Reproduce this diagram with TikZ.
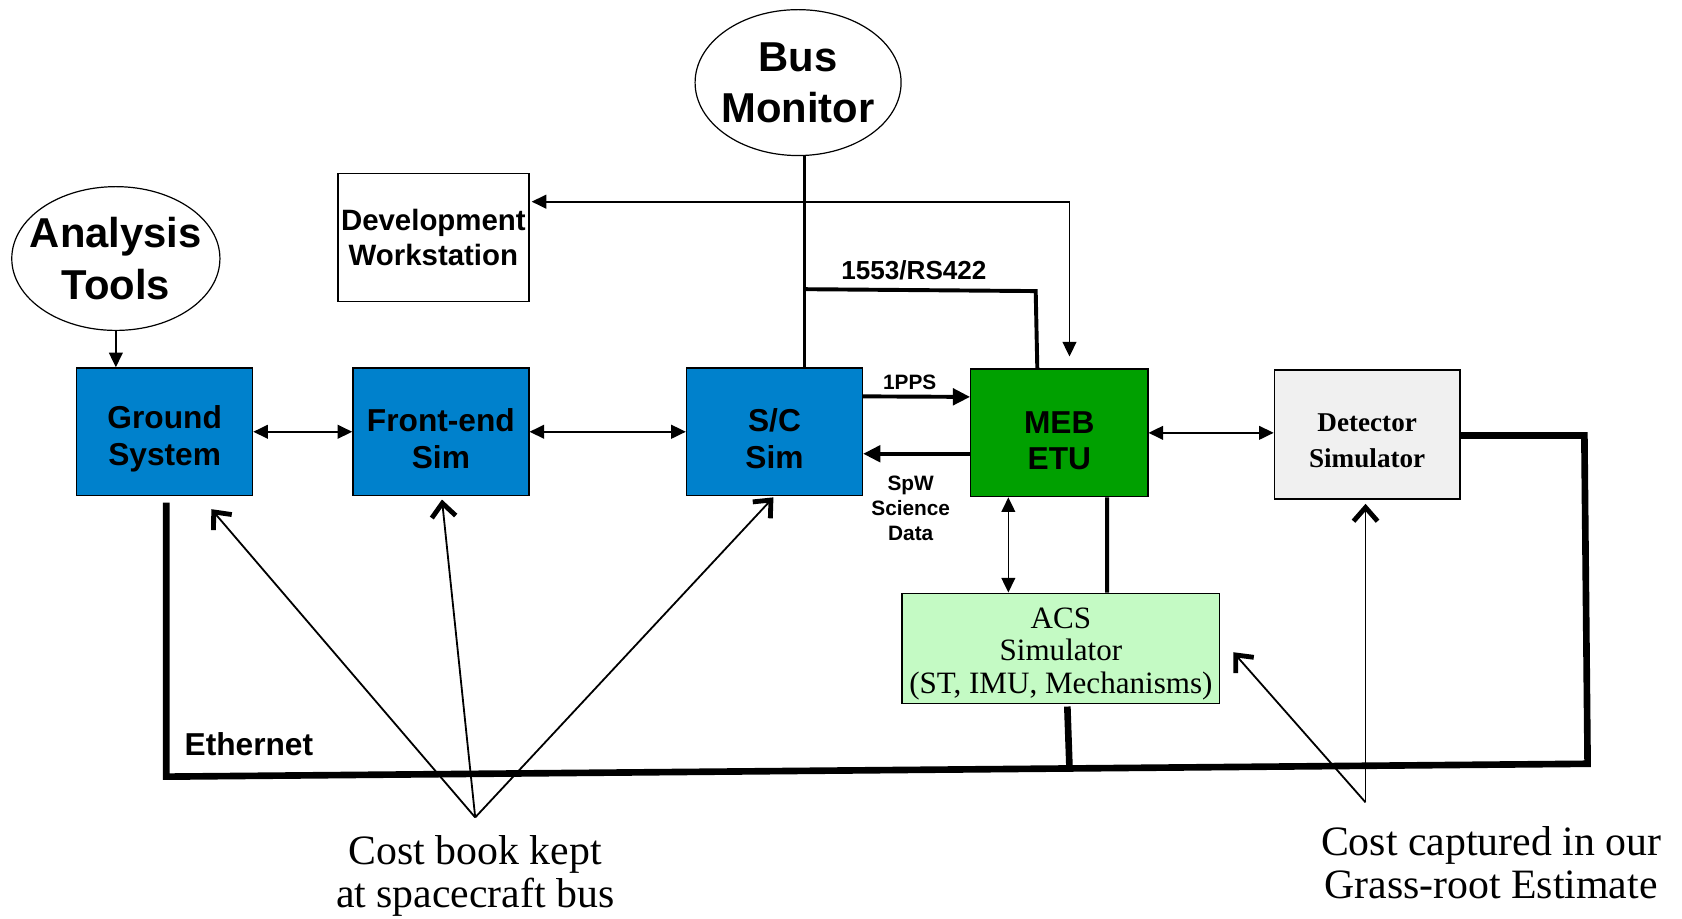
\documentclass[tikz,border=0pt]{standalone}
\usepackage{fontspec}
\setmainfont{Liberation Serif}
\setsansfont{Liberation Sans}
\usepackage{tikz}
\usetikzlibrary{shapes,arrows.meta,positioning,calc}

\definecolor{simblue}{RGB}{0,129,204}
\definecolor{mebgreen}{RGB}{0,160,0}
\definecolor{acsgreen}{RGB}{196,250,196}
\definecolor{detgrey}{RGB}{240,240,240}

\begin{document}
\begin{tikzpicture}[x=0.025cm, y=-0.025cm,
  >={Triangle[length=0.34cm,width=0.32cm]},
  box/.style={draw, line width=0.9pt, align=center, inner xsep=2pt,
    font=\sffamily\bfseries\fontsize{21}{24}\selectfont},
  simbox/.style={box, fill=simblue, minimum width=4.1cm, minimum height=2.975cm},
  oval/.style={ellipse, draw, line width=0.8pt, align=center, inner xsep=-9pt, inner ysep=-3pt,
    font=\sffamily\bfseries\fontsize{27.7}{34}\selectfont},
  lbl/.style={align=center, font=\sffamily\bfseries\fontsize{13.8}{16.7}\selectfont},
  costlbl/.style={align=center, font=\fontsize{27.7}{28.5}\selectfont},
  link/.style={line width=1.1pt},
  bus/.style={line width=2.6pt},
  ether/.style={line width=4.4pt},
  cost/.style={line width=1.2pt, -{Straight Barb[length=0.32cm,width=0.56cm,line width=3.2pt]}}]
\useasboundingbox (0,0) rectangle (1568,856);

% ovals
\node[oval, minimum width=4.8cm, minimum height=3.4cm] (bm) at (744,77) {Bus\\Monitor};
\node[oval, minimum width=4.85cm, minimum height=3.35cm] (at) at (108,241) {Analysis\\Tools};

% boxes
\node[box, minimum width=4.45cm, minimum height=2.975cm, font=\sffamily\bfseries\fontsize{19.5}{22.8}\selectfont] (dw) at (404,221.5) {Development\\Workstation};
\node[simbox] (gs) at (153.5,402.5) {\rule{0pt}{24.5pt}Ground\\System};
\node[simbox] (fe) at (411,402.5) {\rule{0pt}{24.5pt}Front-end\\Sim};
\node[simbox] (sc) at (722,402.5) {\rule{0pt}{24.5pt}S/C\\Sim};
\node[box, fill=mebgreen, minimum width=4.125cm, minimum height=2.975cm] (meb) at (987.5,403.5) {\rule{0pt}{24.5pt}MEB\\ETU};
\node[box, fill=detgrey, minimum width=4.325cm, minimum height=3cm, font=\bfseries\fontsize{18}{24}\selectfont] (det) at (1274.5,405) {\rule{0pt}{20pt}Detector\\Simulator};
\node[box, fill=acsgreen, minimum width=7.4cm, minimum height=2.575cm, inner ysep=1pt, font=\fontsize{20.6}{21.3}\selectfont] (acs) at (989,604.5) {\rule{0pt}{21pt}ACS\\Simulator\\(ST, IMU, Mechanisms)};

% labels
\node[lbl] (pps) at (848,356) {1PPS};
\node[lbl] (spw) at (849,474) {SpW\\Science\\Data};
\node[lbl, font=\sffamily\bfseries\fontsize{17.3}{20}\selectfont] (rs) at (852,252) {1553/RS422};
\node[lbl, font=\sffamily\bfseries\fontsize{21}{24}\selectfont] (eth) at (232,694) {Ethernet};
\node[costlbl] (cbl) at (443,817) {Cost book kept\\at spacecraft bus};
\node[costlbl] (ccl) at (1390,804) {Cost captured in our\\Grass-root Estimate};

% thin links
\draw[link, ->] (at.south) -- (at.south |- gs.north);
\draw[link, <->] (gs.east) -- (fe.west);
\draw[link, <->] (fe.east) -- (sc.east -| sc.west);
\draw[link, <->] (meb.east) -- (meb.east -| det.west);
\coordinate (ma) at ($(meb.south)+(-47.5,0)$);
\draw[link, <->] (ma) -- (ma |- acs.north);
\draw[link, <->] ($(dw.east)+(2,-33.5)$) -| ($(meb.north)+(9.5,-11)$);

% bus monitor and 1553
\coordinate (bl) at ($(bm.south)+(6,0)$);
\draw[bus] (bl) -- (bl |- sc.north);
\draw[bus] ($(bl)+(0,124)$) -- ($(meb.north)+(-22,-72)$) -- ($(meb.north)+(-20.5,0)$);
\draw[bus] ($(meb.south)+(44.5,0)$) -- ($(acs.north)+(43,0)$);

% 1PPS and SpW
\draw[bus, -{Triangle[length=0.4cm,width=0.38cm]}] ($(sc.east)+(0,-33)$) -- ($(meb.west)+(0,-33.5)$);
\draw[bus, -{Triangle[length=0.4cm,width=0.38cm]}] ($(meb.west)+(0,19.5)$) -- ($(sc.east)+(0,20.5)$);

% ethernet
\draw[ether] ($(gs.south)+(1.5,6)$) -- (155,724) -- (1480,712) -- (1477,406) -- ($(det.east)+(0,1)$);
\draw[ether] ($(acs.south)+(6,2)$) -- (997,716);

% cost arrows
\coordinate (cb) at (443,762);
\draw[cost] (cb) -- ($(gs.south)+(43.5,12)$);
\draw[cost] (cb) -- ($(fe.south)+(1,3)$);
\draw[cost] (cb) -- ($(sc.south)+(-1,1)$);
\coordinate (cc) at (1273,748);
\draw[cost] (cc) -- ($(acs.east)+(12,3.5)$);
\draw[cost] (cc) -- ($(det.south)+(-1.5,4)$);
\end{tikzpicture}
\end{document}
